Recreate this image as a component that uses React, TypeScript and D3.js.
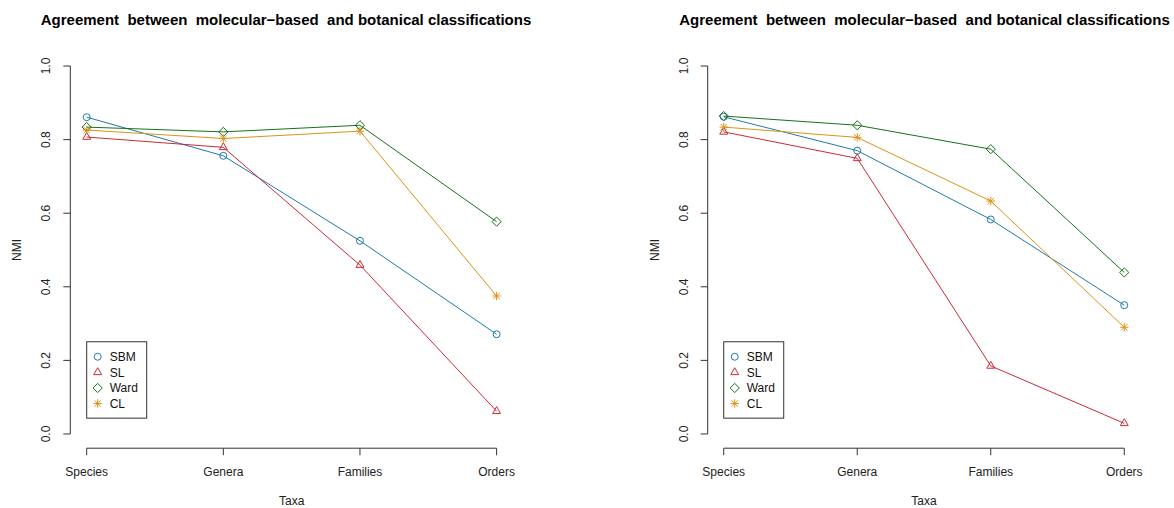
import React from "react";
import * as d3 from "d3";

const taxa = ["Species", "Genera", "Families", "Orders"];
const yTicks = [0, 0.2, 0.4, 0.6, 0.8, 1.0];
const methods = ["SBM", "SL", "Ward", "CL"];

// panel 1 values
const sbmA = [0.861, 0.756, 0.525, 0.271];
const slA = [0.807, 0.779, 0.459, 0.062];
const wardA = [0.834, 0.821, 0.839, 0.577];
const clA = [0.826, 0.803, 0.823, 0.375];

// panel 2 values
const sbmB = [0.862, 0.770, 0.583, 0.350];
const slB = [0.821, 0.749, 0.185, 0.029];
const wardB = [0.864, 0.839, 0.774, 0.439];
const clB = [0.834, 0.806, 0.633, 0.290];

const colors: Record<string, string> = {
  SBM: "#1F7AAB",
  SL: "#CB2A36",
  Ward: "#16721A",
  CL: "#DB9316",
};

const W = 1174;
const H = 508;
const font = "'Liberation Sans', Arial, Helvetica, sans-serif";
const title = "Agreement  between  molecular\u2212based  and botanical classifications";

const Marker = ({ type, x, y, color }: { type: string; x: number; y: number; color: string }) => {
  const s = { fill: "none", stroke: color, strokeWidth: 1 };
  if (type === "SBM") return <circle cx={x} cy={y} r={3.5} {...s} />;
  if (type === "SL") {
    const r = 4.6;
    const pts = [
      [x, y - r],
      [x + r * 0.866, y + r * 0.5],
      [x - r * 0.866, y + r * 0.5],
    ];
    return <polygon points={pts.map((p) => p.join(",")).join(" ")} {...s} />;
  }
  if (type === "Ward") {
    const r = 4.6;
    return (
      <polygon
        points={`${x},${y - r} ${x + r},${y} ${x},${y + r} ${x - r},${y}`}
        {...s}
      />
    );
  }
  const a = 4.2;
  const b = a * 0.75;
  return (
    <g {...s}>
      <line x1={x - a} y1={y} x2={x + a} y2={y} />
      <line x1={x} y1={y - a} x2={x} y2={y + a} />
      <line x1={x - b} y1={y - b} x2={x + b} y2={y + b} />
      <line x1={x - b} y1={y + b} x2={x + b} y2={y - b} />
    </g>
  );
};

const Panel = ({
  left,
  right,
  titleX,
  series,
}: {
  left: number;
  right: number;
  titleX: number;
  series: Record<string, number[]>;
}) => {
  const top = 51.3;
  const bottom = 448.7;
  const x = d3.scaleLinear().domain([0.88, 4.12]).range([left, right]);
  const y = d3.scaleLinear().domain([-0.04, 1.04]).range([bottom, top]);
  const line = d3
    .line<number>()
    .x((_, i) => x(i + 1))
    .y((d) => y(d));
  const axisCol = "#333";
  const cx = (left + right) / 2;
  const legX = x(1);
  const legBottom = y(0.043);
  const rowH = 15.6;
  const legTop = legBottom - rowH * 4 - 14;

  return (
    <g fontFamily={font}>
      <text
        x={titleX}
        y={25}
        textAnchor="middle"
        fontWeight="bold"
        fontSize={15}
        fill="#000"
        style={{ whiteSpace: "pre" }}
      >
        {title}
      </text>
      {/* y axis */}
      <line x1={left} x2={left} y1={y(0)} y2={y(1)} stroke={axisCol} />
      {yTicks.map((t) => (
        <g key={t}>
          <line x1={left - 7} x2={left} y1={y(t)} y2={y(t)} stroke={axisCol} />
          <text
            transform={`translate(${left - 20},${y(t)}) rotate(-90)`}
            textAnchor="middle"
            fontSize={12}
            fill="#222"
          >
            {t.toFixed(1)}
          </text>
        </g>
      ))}
      <text
        transform={`translate(${left - 49},${(top + bottom) / 2}) rotate(-90)`}
        textAnchor="middle"
        fontSize={12}
        fill="#222"
      >
        NMI
      </text>
      {/* x axis */}
      <line x1={x(1)} x2={x(4)} y1={bottom - 0.5} y2={bottom - 0.5} stroke={axisCol} />
      {taxa.map((t, i) => (
        <g key={t}>
          <line x1={x(i + 1)} x2={x(i + 1)} y1={bottom - 0.5} y2={bottom + 6.5} stroke={axisCol} />
          <text x={x(i + 1)} y={bottom + 27} textAnchor="middle" fontSize={12} fill="#222">
            {t}
          </text>
        </g>
      ))}
      <text x={cx} y={bottom + 56} textAnchor="middle" fontSize={12} fill="#222">
        Taxa
      </text>
      {/* lines */}
      {methods.map((m) => (
        <g key={m}>
          <path d={line(series[m]) || ""} fill="none" stroke={colors[m]} strokeWidth={1} />
          {series[m].map((v, i) => (
            <Marker key={i} type={m} x={x(i + 1)} y={y(v)} color={colors[m]} />
          ))}
        </g>
      ))}
      {/* legend */}
      <rect
        x={legX}
        y={legTop}
        width={60}
        height={legBottom - legTop}
        fill="white"
        stroke={axisCol}
      />
      {methods.map((m, i) => (
        <g key={m}>
          <Marker type={m} x={legX + 11} y={legTop + 15 + i * rowH} color={colors[m]} />
          <text x={legX + 23} y={legTop + 19.5 + i * rowH} fontSize={12} fill="#111">
            {m}
          </text>
        </g>
      ))}
    </g>
  );
};

const App = () => {
  const left = { SBM: sbmA, SL: slA, Ward: wardA, CL: clA };
  const right = { SBM: sbmB, SL: slB, Ward: wardB, CL: clB };
  return (
    <svg
      width={W}
      height={H}
      style={{ position: "absolute", left: 0, top: 0, background: "white" }}
    >
      <Panel left={70.3} right={513} titleX={286} series={left} />
      <Panel left={707.7} right={1140.3} titleX={924.5} series={right} />
    </svg>
  );
};

export default App;
